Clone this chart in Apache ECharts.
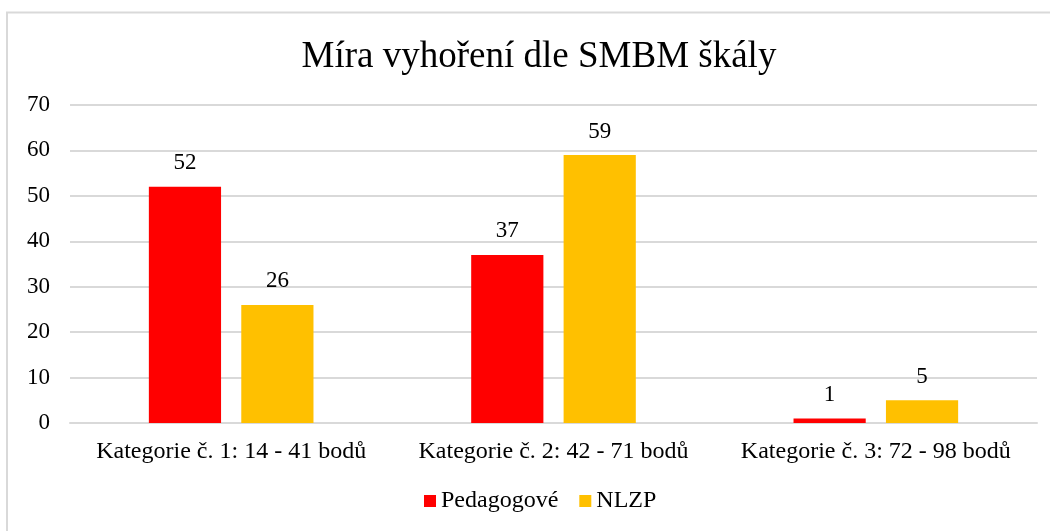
<!DOCTYPE html>
<html>
<head>
<meta charset="utf-8">
<script src="https://cdn.jsdelivr.net/npm/echarts@6/dist/echarts.min.js"></script>
<style>
  html, body { margin: 0; padding: 0; background: #fff; }
  #main { width: 1050px; height: 531px; }
</style>
</head>
<body>
<div id="main"></div>
<script>
// data
var categories = ["Kategorie č. 1: 14 - 41 bodů", "Kategorie č. 2: 42 - 71 bodů", "Kategorie č. 3: 72 - 98 bodů"];
var pedagogove = [52, 37, 1];
var nlzp = [26, 59, 5];
var seriesNames = ["Pedagogové", "NLZP"];

var serif = "'Liberation Serif', 'DejaVu Serif', serif";
var myChart = echarts.init(document.getElementById("main"));

myChart.setOption({
  backgroundColor: "#fff",
  animation: false,
  textStyle: { fontFamily: serif },
  title: {
    text: "Míra vyhoření dle SMBM škály",
    left: 534,
    top: 34,
    textAlign: "center",
    textStyle: { fontFamily: serif, fontSize: 37, fontWeight: "normal", color: "#000" }
  },
  graphic: [
    {
      type: "rect",
      shape: { x: 7, y: 12.5, width: 1060, height: 540 },
      style: { fill: "none", stroke: "#d9d9d9", lineWidth: 2 },
      silent: true
    }
  ],
  legend: {
    bottom: 13,
    left: 419,
    itemWidth: 12,
    itemHeight: 12,
    itemGap: 21,
    icon: "rect",
    textStyle: { fontFamily: serif, fontSize: 24, color: "#000" },
    data: seriesNames
  },
  grid: { left: 70, right: 13, top: 105, bottom: 108 },
  xAxis: {
    type: "category",
    data: categories,
    axisTick: { show: false },
    axisLine: { lineStyle: { color: "#d9d9d9", width: 2 } },
    axisLabel: { interval: 0, fontFamily: serif, fontSize: 24, color: "#000", margin: 17 }
  },
  yAxis: {
    type: "value",
    min: 0,
    max: 70,
    interval: 10,
    axisLine: { show: false },
    axisTick: { show: false },
    axisLabel: { fontFamily: serif, fontSize: 23, color: "#000", margin: 20 },
    splitLine: { lineStyle: { color: "#d9d9d9", width: 2 } }
  },
  series: [
    {
      name: seriesNames[0],
      type: "bar",
      data: pedagogove,
      barWidth: "22.4%",
      barGap: "28%",
      itemStyle: { color: "#ff0000" },
      label: { show: true, position: "top", distance: 12, fontFamily: serif, fontSize: 23, color: "#000" }
    },
    {
      name: seriesNames[1],
      type: "bar",
      data: nlzp,
      barWidth: "22.4%",
      itemStyle: { color: "#ffc000" },
      label: { show: true, position: "top", distance: 12, fontFamily: serif, fontSize: 23, color: "#000" }
    }
  ]
});
</script>
</body>
</html>
